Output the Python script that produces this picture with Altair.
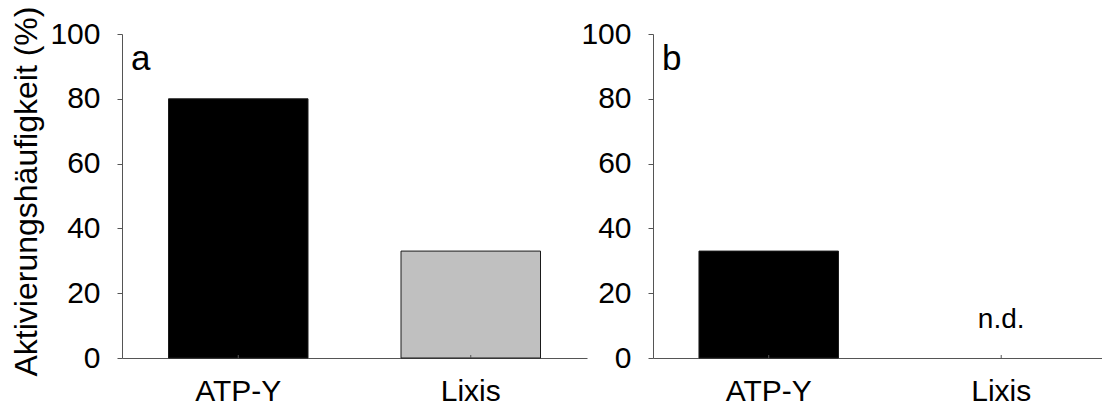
import altair as alt
import pandas as pd

# ---- data ----
categories = ["ATP-Y", "Lixis"]
panel_a_values = [80, 33]
panel_b_values = [33, None]          # Lixis not determined
panel_b_notes = ["", "n.d."]
bar_colors = ["#000000", "#c0c0c0"]
y_ticks = [0, 20, 40, 60, 80, 100]
y_title = "Aktivierungshäufigkeit (%)"

FONT = "Liberation Sans"
H = 324
AX = "#555555"


def panel(values, letter, width, title, xscale, notes=None):
    df = pd.DataFrame({"cat": categories, "val": values,
                       "note": notes if notes else [""] * len(categories)})
    x = alt.X("cat:N", sort=categories, scale=xscale,
              axis=alt.Axis(title=None, labelAngle=0, labelFontSize=30, labelPadding=18,
                            ticks=False, tickSize=0, domainColor=AX, labelColor="#000000"))
    if title is not None:
        y_axis = alt.Axis(values=y_ticks, tickSize=5, labelPadding=17, labelFontSize=30,
                          domainColor=AX, tickColor=AX, grid=False, labelColor="#000000",
                          title=title, titleFontSize=32, titleFontWeight="normal",
                          titlePadding=6, titleColor="#000000", titleY=157)
    else:
        y_axis = alt.Axis(values=y_ticks, tickSize=5, labelPadding=17, labelFontSize=30,
                          domainColor=AX, tickColor=AX, grid=False, labelColor="#000000",
                          title=None)
    y = alt.Y("val:Q", scale=alt.Scale(domain=[0, 100], nice=False), axis=y_axis)

    bars = alt.Chart(df).mark_bar(stroke="#1a1a1a", strokeWidth=1).encode(
        x=x, y=y,
        color=alt.Color("cat:N", scale=alt.Scale(domain=categories, range=bar_colors),
                        legend=None),
    )
    ticks = alt.Chart(df).mark_rule(color=AX, strokeWidth=1).encode(
        x=alt.X("cat:N", sort=categories),
        y=alt.value(H - 3), y2=alt.value(H),
    )
    lab = alt.Chart(pd.DataFrame({"letter": [letter]})).mark_text(
        align="left", baseline="alphabetic", fontSize=35, color="#000000"
    ).encode(x=alt.value(9), y=alt.value(36), text="letter:N")
    layers = [bars, ticks, lab]
    if notes:
        nd = alt.Chart(df).transform_filter(alt.datum.note != "").mark_text(
            align="center", baseline="alphabetic", fontSize=28, dy=-30, color="#000000"
        ).encode(x=alt.X("cat:N", sort=categories), y=alt.datum(0), text="note:N")
        layers.append(nd)
    return alt.layer(*layers).properties(width=width, height=H)


left = panel(panel_a_values, "a", 465, y_title,
             alt.Scale(domain=categories, paddingInner=0.4, paddingOuter=0.2))
right = panel(panel_b_values, "b", 449, None,
              alt.Scale(domain=categories, paddingInner=0.4, paddingOuter=0.1656,
                        align=0.597),
              panel_b_notes)

chart = alt.hconcat(left, right, spacing=66, bounds="flush").properties(
    padding={"left": 2, "top": -2, "right": 0, "bottom": 0},
    background="#ffffff",
).configure_view(stroke=None).configure_axis(
    labelFont=FONT, titleFont=FONT
).configure_text(font=FONT)

chart.save("out.html", embed_options={"renderer": "svg", "actions": False})
